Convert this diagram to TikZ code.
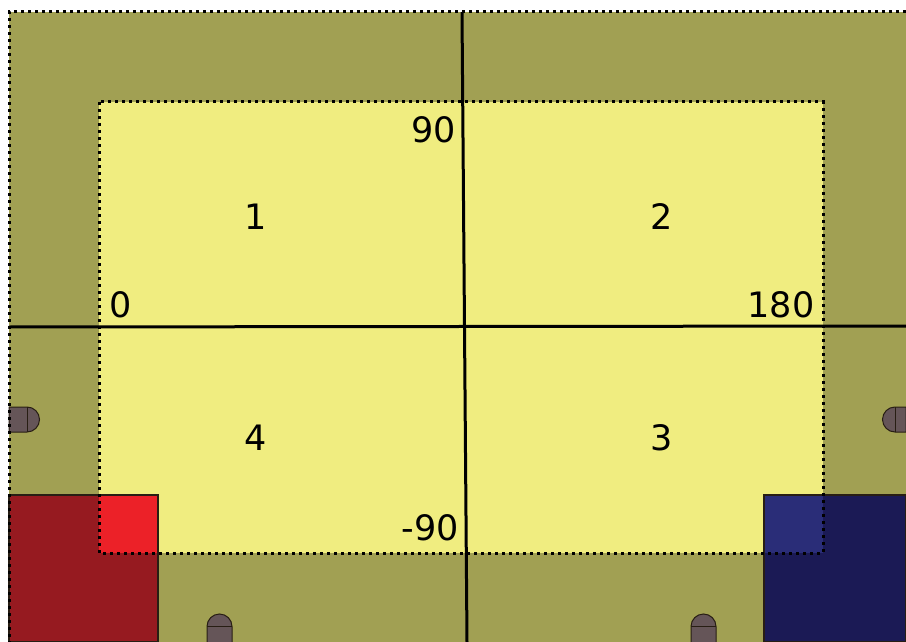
\documentclass[tikz,border=0pt]{standalone}
\usepackage{fontspec}
\setmainfont{DejaVu Sans}
\definecolor{olive}{RGB}{161,160,83}
\definecolor{pale}{RGB}{240,237,128}
\definecolor{darkred}{RGB}{150,26,32}
\definecolor{brightred}{RGB}{236,33,40}
\definecolor{navy}{RGB}{27,26,85}
\definecolor{midblue}{RGB}{42,45,120}
\definecolor{pillc}{RGB}{101,85,88}
\definecolor{edge}{RGB}{40,30,20}
\tikzset{
  dotborder/.style={line width=3pt, dash pattern=on 3pt off 4pt},
  axis/.style={line width=3pt, black},
  pill/.style={fill=pillc, draw=edge, line width=1pt},
  lbl/.style={inner sep=0pt, font=\fontsize{35}{42}\selectfont}
}
\begin{document}
\begin{tikzpicture}[x=1pt,y=-1pt]
\useasboundingbox (0,0) rectangle (906,642);
\fill[white] (0,0) rectangle (906,642);
% background
\fill[olive] (9,12) rectangle (906,642);
% inner region
\fill[pale] (99,102) rectangle (823,553);
% axes
\coordinate (vt) at (462,12);
\coordinate (vb) at (467,642);
\coordinate (hl) at (9,327);
\coordinate (hr) at (906,326);
\draw[axis] (vt) -- (vb);
\draw[axis] (hl) -- (hr);
% red and blue blocks
\draw[fill=darkred, draw=edge, line width=1.2pt] (9,495) rectangle (158,642);
\fill[brightred] (99,495.6) rectangle (157.4,553);
\draw[fill=navy, draw=edge, line width=1.2pt] (764,495) rectangle (906,642);
\fill[midblue] (764.6,495.6) rectangle (823,553);
% pills
\draw[pill] (9,407) -- (27,407) arc[start angle=90,end angle=-90,radius=12.5pt] -- (9,432) -- cycle;
\draw[edge, line width=1pt] (27,407) -- (27,432);
\draw[pill] (906,407) -- (895,407) arc[start angle=90,end angle=270,radius=12.5pt] -- (906,432) -- cycle;
\draw[edge, line width=1pt] (895,407) -- (895,432);
\draw[pill] (207,642) -- (207,626.5) arc[start angle=180,end angle=0,radius=12.5pt] -- (232,642);
\draw[edge, line width=1pt] (207,626.5) -- (232,626.5);
\draw[pill] (691,642) -- (691,626.5) arc[start angle=180,end angle=0,radius=12.5pt] -- (716,642);
\draw[edge, line width=1pt] (691,626.5) -- (716,626.5);
% dotted borders
\draw[dotborder] (99,102) rectangle (823,553);
\draw[dotborder] (906,12) -- (9,12) -- (9,642);
% labels
\node[lbl] (n90) at (434,130) {90};
\node[lbl] (q1) at (256,217) {1};
\node[lbl] (q2) at (662,217) {2};
\node[lbl] (n0) at (121,305) {0};
\node[lbl] (n180) at (781,305) {180};
\node[lbl] (q4) at (256,438) {4};
\node[lbl] (q3) at (662,438) {3};
\node[lbl] (nm90) at (430,528) {-90};
\end{tikzpicture}
\end{document}
